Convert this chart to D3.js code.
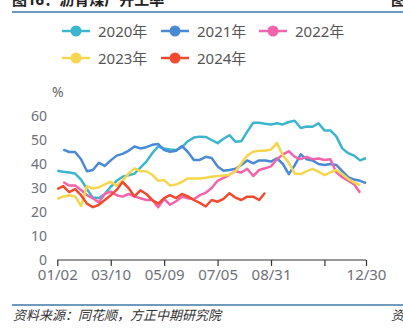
<!DOCTYPE html>
<html><head><meta charset="utf-8">
<script src="https://cdn.jsdelivr.net/npm/d3@7"></script>
<style>
html,body{margin:0;padding:0;background:#fff;}
svg{display:block;}
text{font-family:"Noto Sans","Noto Sans CJK SC",sans-serif;}
</style></head>
<body><svg id="c" width="403" height="328"></svg>
<script>
// ---- data ----
const years = ["2020年","2021年","2022年","2023年","2024年"];
const colors = ["#3cb5cd","#4a8ad5","#f364ab","#f4d64f","#f24a2e"];
const tickIdx = [0,9,18,27,36,45,52];
const tickLabels = ["01/02","03/10","05/09","07/05","08/31","","12/30"];
const yTicks = [0,10,20,30,40,50,60];
const s2020 = [37.2,36.8,36.5,36,33.5,29.5,26,25.8,27.5,30.5,33,34.7,35.3,36,38.5,41,44.5,47.3,46.5,46,45.8,47,49.5,51,51.4,51.3,50,48.7,50.5,52,49.3,49.5,53.5,57.2,57.2,56.8,56.5,57,56.5,57.5,58,55,55.6,55.5,57,54,54,51.5,46.5,44.5,43.5,41.5,42.5];
const s2021 = [null,46,45,45,42,37,37.5,40.5,39.2,41.5,43.5,44.2,45.5,47.3,46.5,47,48,48.3,45.8,45.1,45.5,47.5,45,41.7,41.7,43,42.5,39,37.2,37.5,38,39.6,41.5,40.3,41.5,41.5,41,42.4,40,35.8,39.5,44,42,41.5,40,39.6,40,39.6,37,34.5,33.5,33,32];
const s2022 = [null,32.5,31,31,29.2,27,25.7,24,27.5,28.5,27,26.4,27.5,26.5,25.7,25,25,22,25.5,23,24.5,26.4,25.7,25.3,27,28,30,33,34.2,35.5,37,36.5,38,35,37.5,38.2,39,42,44,45.3,43,42,43,42,42.3,41.7,42,36.5,34.5,33,31.5,28,null];
const s2023 = [25.5,26.5,27,26.5,22.5,30.8,29.8,30.3,31.5,32.6,31,33.2,36,38.2,37,37,35.5,33,33.3,31,31.5,32.5,34,34,34,34.3,34.7,35,35.2,35.4,37,40.3,43.5,45.1,45.5,45.5,46,48.8,43.5,40.5,36,35.8,37,38,36.8,35.4,36.5,37.5,35.8,33.8,32.3,31.2,null];
const s2024 = [29.5,30.8,28.3,29.5,27,23.5,22,23,25,27,29.2,32.5,30,26.5,29,27.5,25,23.5,25.8,27,25.8,27.5,26.5,25,23.8,22.3,25,24.3,25.5,27.8,26,25,26.4,26.4,25,28];
const series = [s2020,s2021,s2022,s2023,s2024];

const svg = d3.select("#c");
const x = d3.scaleLinear().domain([0,52]).range([57.3,366]);
const y = d3.scaleLinear().domain([0,60]).range([260,116]);

// header
svg.append("text").attr("x",12).attr("y",5).attr("font-size",15).attr("font-weight","bold")
  .attr("fill","#222").text("图16：沥青煤厂开工率");
svg.append("text").attr("x",391).attr("y",5).attr("font-size",15).attr("font-weight","bold")
  .attr("fill","#222").text("图");
svg.append("line").attr("x1",12).attr("x2",403).attr("y1",12).attr("y2",12)
  .attr("stroke","#3f79a6").attr("stroke-width",1.5);

// legend
const legPos = [[76,31],[175,31],[273,31],[76,58],[175,58]];
years.forEach((name,i)=>{
  const [cx,cy] = legPos[i];
  const g = svg.append("g");
  g.append("line").attr("x1",cx-14).attr("x2",cx+14).attr("y1",cy).attr("y2",cy)
    .attr("stroke",colors[i]).attr("stroke-width",2.5);
  g.append("circle").attr("cx",cx).attr("cy",cy).attr("r",5.5).attr("fill",colors[i]);
  g.append("text").attr("x",cx+22).attr("y",cy+5.5).attr("font-size",15).attr("fill","#555").text(name);
});

// y axis labels
svg.append("text").attr("x",52).attr("y",97).attr("font-size",14).attr("fill","#666").text("%");
const yAxis = d3.axisLeft(y).tickValues(yTicks).tickSize(0).tickPadding(10);
const ya = svg.append("g").attr("transform","translate(57,0)").call(yAxis);
ya.select(".domain").remove();
ya.selectAll("text").attr("font-size",14).attr("fill","#6e7079")
  .attr("font-family",'"Noto Sans",sans-serif');

// x axis
const xAxis = d3.axisBottom(x).tickValues(tickIdx)
  .tickFormat((d,i)=>tickLabels[i]).tickSize(6).tickPadding(3);
const xa = svg.append("g").attr("transform","translate(0,260)").call(xAxis);
xa.select(".domain").attr("stroke","#333").attr("stroke-width",1.2).attr("d","M57.3,0H366");
xa.selectAll(".tick line").attr("stroke","#333").attr("stroke-width",1.2);
xa.selectAll("text").attr("font-size",15).attr("fill","#6e7079")
  .attr("font-family",'"Noto Sans",sans-serif');

// lines
const line = d3.line().defined(d=>d!=null).x((d,i)=>x(i)).y(d=>y(d));
series.forEach((s,i)=>{
  svg.append("path").datum(s).attr("d",line).attr("fill","none")
    .attr("stroke",colors[i]).attr("stroke-width",2.5).attr("stroke-linejoin","round");
});

// footer
svg.append("line").attr("x1",12).attr("x2",403).attr("y1",305).attr("y2",305)
  .attr("stroke","#3f79a6").attr("stroke-width",1.5);
svg.append("text").attr("x",13).attr("y",320).attr("font-size",13).attr("font-style","italic")
  .attr("fill","#333").text("资料来源：同花顺，方正中期研究院");
svg.append("text").attr("x",391).attr("y",320).attr("font-size",13).attr("font-style","italic")
  .attr("fill","#333").text("资");
</script></body></html>
